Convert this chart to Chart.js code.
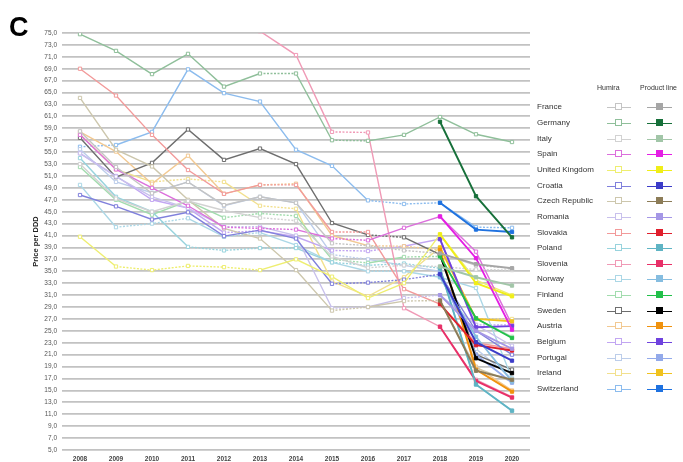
<!DOCTYPE html>
<html>
<head>
<meta charset="utf-8">
<script src="https://cdn.jsdelivr.net/npm/chart.js@4/dist/chart.umd.min.js"></script>
<style>
  html, body { margin: 0; padding: 0; background: #fff; }
  #wrap { position: relative; width: 683px; height: 462px; overflow: hidden; font-family: "Liberation Sans", Arial, sans-serif; }
  #chart { position: absolute; left: 0; top: 0; }
  #panel { position: absolute; left: 9px; top: 12px; font: bold 27px "Liberation Sans", Arial, sans-serif; color: #000; }
  .hdr { position: absolute; top: 84px; font-size: 7px; color: #333; white-space: nowrap; }
  .row { position: absolute; left: 0; width: 683px; height: 10px; }
  .name { position: absolute; left: 537px; top: 0; font-size: 8px; line-height: 10px; color: #333; white-space: nowrap; }
  .seg { position: absolute; top: 5px; height: 1px; }
  .mk { position: absolute; top: 1px; width: 5px; height: 5px; box-sizing: content-box; }
</style>
</head>
<body>
<div id="wrap">
  <canvas id="chart" width="683" height="462"></canvas>
  <div id="panel">C</div>
  <div class="hdr" style="left:597px">Humira</div>
  <div class="hdr" style="left:640px">Product line</div>
  <div id="legend"></div>
</div>
<script>
// Years on the horizontal axis
const years = ['2008','2009','2010','2011','2012','2013','2014','2015','2016','2017','2018','2019','2020'];

const countries = ['France','Germany','Italy','Spain','United Kingdom','Croatia','Czech Republic','Romania','Slovakia','Poland','Slovenia','Norway','Finland','Sweden','Austria','Belgium','Portugal','Ireland','Switzerland'];

// Price per DDD, Humira (originator)
const humiraFrance      = [58.5, 52.5, 48.1, 50.0, 46.1, 47.5, 46.5, 39.7, 39.3, 38.5, 38.0, 36.0, 35.5];
const humiraGermany     = [74.8, 72.0, 68.1, 71.5, 66.0, 68.2, 68.2, 57.0, 56.9, 57.9, 60.9, 58.0, 56.7];
const humiraItaly       = [53.0, 47.2, 45.0, 46.8, 45.2, 44.0, 43.5, 37.5, 35.6, 36.0, 35.8, 35.3, 35.2];
const humiraSpain       = [57.9, 52.1, 49.0, 46.0, 42.4, 42.2, 42.0, 40.5, 40.2, 42.3, 44.2, 38.3, 26.0];
const humiraUK          = [40.8, 35.8, 35.2, 35.9, 35.7, 35.2, 37.0, 34.1, 30.5, 33.0, 41.2, 33.5, 31.0];
const humiraCroatia     = [47.8, 45.9, 43.7, 44.9, 40.9, 41.9, 40.5, 32.9, 33.1, 33.6, 34.5, 25.0, 21.0];
const humiraCzech       = [64.1, 55.4, 52.6, 47.0, 42.2, 40.5, 35.2, 28.4, 29.0, 30.0, 30.1, 18.8, 16.5];
const humiraRomania     = [54.8, 50.9, 47.5, 45.6, 42.5, 42.5, 41.0, 28.8, 29.0, 30.5, 31.0, 26.0, 22.5];
const humiraSlovakia    = [69.0, 64.5, 57.9, 52.0, 48.0, 49.5, 49.5, 41.6, 41.6, 32.0, 29.5, 23.0, 22.0];
const humiraPoland      = [54.0, 47.5, 45.0, 39.1, 38.5, 38.9, 38.9, 36.5, 36.0, 36.3, 35.5, 16.0, 11.6];
const humiraSlovenia    = [null, null, null, null, null, 75.3, 71.3, 58.4, 58.3, 28.8, 25.7, 16.8, 13.9];
const humiraNorway      = [49.5, 42.4, 43.0, 43.9, 40.8, 41.5, 39.4, 36.5, 35.0, 35.0, 34.0, 32.2, 17.0];
const humiraFinland     = [52.5, 47.0, 44.5, 46.8, 44.0, 44.7, 44.3, 37.0, 36.4, 37.4, 37.5, 27.1, 24.0];
const humiraSweden      = [57.4, 50.8, 53.2, 58.8, 53.7, 55.6, 53.0, 43.1, 41.1, 40.7, 37.8, 21.0, 18.5];
const humiraAustria     = [58.4, 55.1, 49.7, 54.4, 48.0, 49.5, 49.7, 41.0, 39.3, 39.2, 38.6, 19.0, 15.0];
const humiraBelgium     = [54.8, 51.0, 47.0, 45.6, 41.5, 41.8, 40.8, 38.5, 38.4, 39.2, 40.4, 26.0, 26.0];
const humiraPortugal    = [55.5, 50.0, 48.2, 50.0, 46.0, 47.5, 46.5, 37.8, 37.0, 36.0, 35.0, 22.0, 17.0];
const humiraIreland     = [58.0, 52.1, 50.0, 50.5, 50.0, 46.0, 45.5, 33.3, 30.8, 34.0, 39.0, 27.0, 27.0];
const humiraSwitzerland = [55.9, 56.2, 58.4, 68.9, 64.9, 63.5, 55.4, 52.7, 46.9, 46.3, 46.5, 42.4, 42.3];

// Price per DDD, whole product line (originator + biosimilars)
const productFrance      = [null, null, null, null, null, null, null, null, null, null, 38.0, 36.2, 35.5];
const productGermany     = [null, null, null, null, null, null, null, null, null, null, 60.1, 47.6, 40.7];
const productItaly       = [null, null, null, null, null, null, null, null, null, null, 35.8, 34.0, 32.6];
const productSpain       = [null, null, null, null, null, null, null, null, null, null, 44.2, 37.2, 25.2];
const productUK          = [null, null, null, null, null, null, null, null, null, null, 41.2, 33.0, 30.8];
const productCroatia     = [null, null, null, null, null, null, null, null, null, null, 34.5, 23.1, 20.0];
const productCzech       = [null, null, null, null, null, null, null, null, null, null, 30.1, 18.3, 16.8];
const productRomania     = [null, null, null, null, null, null, null, null, null, null, 31.0, 25.0, 22.0];
const productSlovakia    = [null, null, null, null, null, null, null, null, null, null, 29.5, 22.6, 21.7];
const productPoland      = [null, null, null, null, null, null, null, null, null, null, 35.5, 16.0, 11.6];
const productSlovenia    = [null, null, null, null, null, null, null, null, null, null, 25.7, 16.6, 13.8];
const productNorway      = [null, null, null, null, null, null, null, null, null, null, 34.0, 24.0, 16.5];
const productFinland     = [null, null, null, null, null, null, null, null, null, null, 37.5, 27.1, 23.8];
const productSweden      = [null, null, null, null, null, null, null, null, null, null, 37.8, 20.4, 17.9];
const productAustria     = [null, null, null, null, null, null, null, null, null, null, 38.6, 18.5, 14.8];
const productBelgium     = [null, null, null, null, null, null, null, null, null, null, 40.4, 25.6, 25.8];
const productPortugal    = [null, null, null, null, null, null, null, null, null, null, 35.0, 21.0, 16.3];
const productIreland     = [null, null, null, null, null, null, null, null, null, null, 39.0, 27.0, 26.6];
const productSwitzerland = [null, null, null, null, null, null, null, null, null, null, 46.5, 42.0, 41.6];

const humiraSeries  = [humiraFrance, humiraGermany, humiraItaly, humiraSpain, humiraUK, humiraCroatia, humiraCzech, humiraRomania, humiraSlovakia, humiraPoland, humiraSlovenia, humiraNorway, humiraFinland, humiraSweden, humiraAustria, humiraBelgium, humiraPortugal, humiraIreland, humiraSwitzerland];
const productSeries = [productFrance, productGermany, productItaly, productSpain, productUK, productCroatia, productCzech, productRomania, productSlovakia, productPoland, productSlovenia, productNorway, productFinland, productSweden, productAustria, productBelgium, productPortugal, productIreland, productSwitzerland];

// Line colours: pale for Humira, saturated for the product line
const humiraColors  = ['#c4c4c4','#8fbf9a','#d2d2d2','#dc6fdc','#eeee70','#8080dc','#cdc7ad','#c8c0ec','#f29a9a','#98d3dd','#f09ab6','#abd7e6','#a2dcae','#6e6e6e','#f2c992','#c2a6f2','#bccdea','#f2e08e','#8cbcee'];
const productColors = ['#a6a6a6','#17703a','#a2c6a8','#e41ee4','#f0ee18','#3c3cc8','#8c7c58','#a597e6','#e01f2d','#5fb4c4','#e83068','#86bde0','#22c04a','#000000','#f0920e','#6f42de','#93aaea','#f0c21e','#1f72e0'];

const datasets = [];
countries.forEach((name, i) => {
  datasets.push({
    label: name + ' (Humira)',
    data: humiraSeries[i],
    borderColor: humiraColors[i],
    backgroundColor: '#ffffff',
    borderWidth: 1.4,
    pointStyle: 'rect',
    pointRadius: 2.3,
    pointBorderWidth: 1,
    pointBorderColor: humiraColors[i],
    pointBackgroundColor: '#ffffff',
    tension: 0,
    order: 1,
    segment: {
      // flat stretches are drawn dotted
      borderDash: ctx => Math.abs(ctx.p0.parsed.y - ctx.p1.parsed.y) < 1 ? [2, 1.5] : undefined
    }
  });
  datasets.push({
    label: name + ' (Product line)',
    data: productSeries[i],
    borderColor: productColors[i],
    backgroundColor: productColors[i],
    borderWidth: 1.9,
    pointStyle: 'rect',
    pointRadius: 2.3,
    pointBorderWidth: 1,
    pointBorderColor: productColors[i],
    pointBackgroundColor: productColors[i],
    tension: 0,
    order: 0
  });
});

new Chart(document.getElementById('chart'), {
  type: 'line',
  data: { labels: years, datasets },
  options: {
    responsive: false,
    animation: false,
    devicePixelRatio: 1,
    layout: { padding: { left: 0, right: 153, top: 33, bottom: 0 } },
    plugins: { legend: { display: false }, tooltip: { enabled: false } },
    scales: {
      x: {
        type: 'category',
        offset: true,
        grid: { display: false, drawTicks: false },
        border: { display: false },
        ticks: { font: { size: 6.5, weight: 'bold', family: '"Liberation Sans", Arial, sans-serif' }, color: '#444', padding: 5, maxRotation: 0, autoSkip: false },
        afterFit(s) { s.height = 12; }
      },
      y: {
        min: 5,
        max: 75,
        ticks: {
          stepSize: 2,
          callback: v => v.toFixed(1).replace('.', ','),
          font: { size: 6.5, family: '"Liberation Sans", Arial, sans-serif' },
          color: '#555',
          padding: 5
        },
        grid: { color: '#c2c2c2', lineWidth: 1.8, drawTicks: false },
        border: { display: false },
        title: {
          display: true,
          text: 'Price per DDD',
          font: { size: 7.5, weight: 'bold', family: '"Liberation Sans", Arial, sans-serif' },
          color: '#222',
          padding: { top: 31, bottom: 0 }
        },
        afterFit(s) { s.width = 62; }
      }
    }
  }
});

// Two-column legend: hollow Humira marker, filled product-line marker
const legend = document.getElementById('legend');
countries.forEach((name, i) => {
  const row = document.createElement('div');
  row.className = 'row';
  row.style.top = (102.3 + i * 15.65) + 'px';
  row.innerHTML =
    '<span class="name">' + name + '</span>' +
    '<span class="seg" style="left:607px;width:24px;background:' + humiraColors[i] + '"></span>' +
    '<span class="mk" style="left:615px;background:#fff;border:1px solid ' + humiraColors[i] + '"></span>' +
    '<span class="seg" style="left:647px;width:25px;background:' + productColors[i] + '"></span>' +
    '<span class="mk" style="left:656px;background:' + productColors[i] + ';border:1px solid ' + productColors[i] + '"></span>';
  legend.appendChild(row);
});
</script>
</body>
</html>
